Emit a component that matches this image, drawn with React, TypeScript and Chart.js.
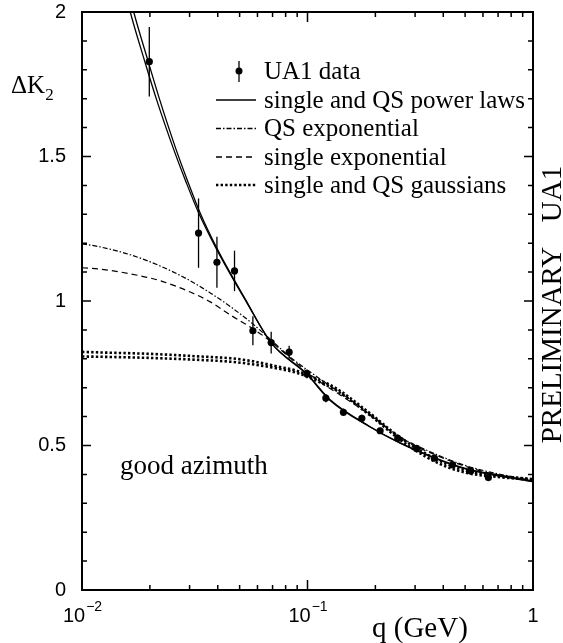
import React, { useEffect, useRef } from 'react';
import { Chart, registerables } from 'chart.js';
Chart.register(...registerables);

// UA1 data points
const Q_DATA = [0.01988, 0.03287, 0.03966, 0.04746, 0.05726, 0.06901, 0.08292, 0.09934, 0.1206, 0.1443, 0.1741, 0.2099, 0.2514, 0.3045, 0.3652, 0.4399, 0.5296, 0.6339];
const K_DATA = [1.828, 1.235, 1.134, 1.104, 0.897, 0.856, 0.823, 0.748, 0.664, 0.615, 0.594, 0.551, 0.525, 0.490, 0.456, 0.433, 0.412, 0.389];
const K_ERR = [0.12, 0.12, 0.088, 0.07, 0.05, 0.038, 0.022, 0.015, 0.014, 0.013, 0.012, 0.011, 0.01, 0.01, 0.01, 0.01, 0.01, 0.01];

// single power law
const Q_POW_SINGLE = [0.01588, 0.01637, 0.01900, 0.02143, 0.02555, 0.02870, 0.03277, 0.03966, 0.05293, 0.06901, 0.09934, 0.1260, 0.1895, 0.2574, 0.3606, 0.5100, 0.6998, 1.0];
const K_POW_SINGLE = [2.042, 2.0, 1.828, 1.696, 1.523, 1.419, 1.308, 1.177, 1.004, 0.856, 0.748, 0.658, 0.565, 0.509, 0.460, 0.419, 0.398, 0.377];
// QS power law
const Q_POW_QS = [0.01645, 0.01696, 0.01967, 0.02212, 0.02617, 0.02928, 0.03327, 0.03998, 0.05320, 0.06901, 0.09934, 0.1260, 0.1895, 0.2574, 0.3606, 0.5100, 0.6998, 1.0];
const K_POW_QS = [2.042, 2.0, 1.828, 1.696, 1.523, 1.419, 1.308, 1.177, 1.004, 0.855, 0.746, 0.656, 0.564, 0.508, 0.458, 0.417, 0.395, 0.374];

// exponentials
const Q_EXP = [0.01, 0.01206, 0.01637, 0.02223, 0.03020, 0.03704, 0.04542, 0.05570, 0.06901, 0.08378, 0.1138, 0.1395, 0.1832, 0.2574, 0.3606, 0.5100, 0.6998, 1.0];
const K_QS_EXP = [1.198, 1.187, 1.160, 1.121, 1.070, 1.028, 0.981, 0.928, 0.865, 0.806, 0.730, 0.682, 0.617, 0.530, 0.474, 0.429, 0.402, 0.381];
const K_SINGLE_EXP = [1.115, 1.110, 1.094, 1.070, 1.031, 0.997, 0.952, 0.910, 0.859, 0.803, 0.720, 0.675, 0.613, 0.526, 0.471, 0.426, 0.398, 0.377];

// gaussians
const Q_GAUSS = [0.01, 0.01206, 0.02008, 0.03344, 0.04542, 0.05570, 0.07190, 0.09000, 0.1104, 0.1353, 0.1764, 0.2036, 0.2325, 0.2850, 0.3871, 0.5100, 0.6998, 1.0];
const K_GAUSS_SINGLE = [0.824, 0.822, 0.817, 0.808, 0.802, 0.793, 0.775, 0.758, 0.730, 0.696, 0.630, 0.592, 0.554, 0.505, 0.446, 0.412, 0.395, 0.384];
const K_GAUSS_QS = [0.808, 0.807, 0.803, 0.796, 0.790, 0.782, 0.768, 0.751, 0.723, 0.689, 0.623, 0.585, 0.547, 0.495, 0.436, 0.405, 0.391, 0.381];

const Y_TICKS = [0, 0.5, 1, 1.5, 2];
const Y_TICK_LABELS = ['0', '0.5', '1', '1.5', '2'];
const X_TICKS = [0.01, 0.1, 1];
const X_TICK_BASES = ['10', '10', '1'];
const X_TICK_EXPS = ['\u22122', '\u22121', ''];
const LEGEND_LABELS = ['UA1 data', 'single and QS power laws', 'QS exponential', 'single exponential', 'single and QS gaussians'];

const SERIF = '"Liberation Serif", "Times New Roman", serif';
const SANS = '"Liberation Sans", Arial, sans-serif';

const DASH_QS_EXP = [5, 2, 1.5, 2];
const DASH_SINGLE_EXP = [6, 4];
const DASH_GAUSS = [2.4, 2.2];
const GAUSS_WIDTH = 2.6;

function pts(xs: number[], ys: number[]) {
  return xs.map((x, i) => ({ x, y: ys[i] }));
}

const lineDs = (label: string, xs: number[], ys: number[], dash: number[], width: number) => ({
  label,
  data: pts(xs, ys),
  borderColor: '#000',
  backgroundColor: '#000',
  borderWidth: width,
  borderDash: dash,
  borderCapStyle: 'butt',
  pointRadius: 0,
  fill: false,
  cubicInterpolationMode: 'monotone',
});

const decorPlugin = {
  id: 'decor',
  beforeDatasetsDraw(chart: any) {
    const ctx = chart.ctx;
    const xs = chart.scales.x;
    const ys = chart.scales.y;
    const ca = chart.chartArea;
    ctx.save();
    ctx.beginPath();
    ctx.rect(ca.left, ca.top, ca.right - ca.left, ca.bottom - ca.top);
    ctx.clip();
    ctx.strokeStyle = '#000';
    ctx.lineWidth = 1.3;
    Q_DATA.forEach((q, i) => {
      const px = xs.getPixelForValue(q);
      ctx.beginPath();
      ctx.moveTo(px, ys.getPixelForValue(K_DATA[i] + K_ERR[i]));
      ctx.lineTo(px, ys.getPixelForValue(K_DATA[i] - K_ERR[i]));
      ctx.stroke();
    });
    ctx.restore();
  },
  afterDraw(chart: any) {
    const ctx = chart.ctx;
    const xs = chart.scales.x;
    const ys = chart.scales.y;
    const ca = chart.chartArea;
    ctx.save();
    ctx.strokeStyle = '#000';
    ctx.fillStyle = '#000';
    // frame
    ctx.lineWidth = 2;
    ctx.strokeRect(ca.left, ca.top, ca.right - ca.left, ca.bottom - ca.top);
    // y ticks
    ctx.lineWidth = 1.5;
    for (let k = 0; k <= 20; k++) {
      const v = k / 10;
      const py = ys.getPixelForValue(v);
      const len = k % 5 === 0 ? 9 : 5;
      ctx.beginPath();
      ctx.moveTo(ca.left, py); ctx.lineTo(ca.left + len, py);
      ctx.moveTo(ca.right, py); ctx.lineTo(ca.right - len, py);
      ctx.stroke();
    }
    // x ticks
    const decades = [0.01, 0.1];
    const xt: { v: number; major: boolean }[] = [];
    decades.forEach((d) => {
      for (let m = 1; m <= 9; m++) xt.push({ v: m * d, major: m === 1 });
    });
    xt.push({ v: 1, major: true });
    xt.forEach((t) => {
      const px = xs.getPixelForValue(t.v);
      const len = t.major ? 10 : 5;
      ctx.beginPath();
      ctx.moveTo(px, ca.bottom); ctx.lineTo(px, ca.bottom - len);
      ctx.moveTo(px, ca.top); ctx.lineTo(px, ca.top + len);
      ctx.stroke();
    });
    // y labels
    ctx.font = '20px ' + SANS;
    ctx.textAlign = 'right';
    ctx.textBaseline = 'middle';
    Y_TICKS.forEach((v, i) => {
      ctx.fillText(Y_TICK_LABELS[i], ca.left - 16, ys.getPixelForValue(v));
    });
    // x labels
    ctx.textBaseline = 'alphabetic';
    ctx.textAlign = 'left';
    X_TICKS.forEach((v, i) => {
      const px = xs.getPixelForValue(v);
      ctx.font = '20px ' + SANS;
      const wb = ctx.measureText(X_TICK_BASES[i]).width;
      ctx.font = '14px ' + SANS;
      const we = X_TICK_EXPS[i] ? ctx.measureText(X_TICK_EXPS[i]).width : 0;
      const x0 = px - (wb + we) / 2;
      ctx.font = '20px ' + SANS;
      ctx.fillText(X_TICK_BASES[i], x0, ca.bottom + 32);
      if (X_TICK_EXPS[i]) {
        ctx.font = '14px ' + SANS;
        ctx.fillText(X_TICK_EXPS[i], x0 + wb + 1, ca.bottom + 21);
      }
    });
    // axis titles
    ctx.font = '29px ' + SERIF;
    ctx.fillText('q (GeV)', 372, 637);
    ctx.font = '25px ' + SERIF;
    ctx.fillText('\u0394K', 11, 93);
    const wdk = ctx.measureText('\u0394K').width;
    ctx.font = '17px ' + SERIF;
    ctx.fillText('2', 11 + wdk, 100);
    // annotation
    ctx.font = '27px ' + SERIF;
    ctx.textBaseline = 'middle';
    ctx.fillText('good azimuth', 120, 467);
    // preliminary
    ctx.save();
    ctx.translate(561, 0);
    ctx.rotate(-Math.PI / 2);
    ctx.font = '29px ' + SERIF;
    ctx.textBaseline = 'alphabetic';
    ctx.textAlign = 'center';
    ctx.fillText('PRELIMINARY', -345, 0);
    ctx.fillText('UA1', -194, 0);
    ctx.restore();
    // legend
    const rows = [71, 100, 128.5, 157, 185];
    const lx0 = 216, lx1 = 256, tx = 264;
    ctx.font = '25px ' + SERIF;
    ctx.textBaseline = 'middle';
    ctx.textAlign = 'left';
    LEGEND_LABELS.forEach((lab, i) => {
      const y = rows[i];
      ctx.fillText(lab, tx, y + 1);
      if (i === 0) {
        ctx.lineWidth = 1.3;
        ctx.setLineDash([]);
        ctx.beginPath();
        ctx.moveTo(239, y - 10); ctx.lineTo(239, y + 11);
        ctx.stroke();
        ctx.beginPath();
        ctx.arc(239, y, 3.5, 0, Math.PI * 2);
        ctx.fill();
      } else {
        const dash = i === 1 ? [] : i === 2 ? DASH_QS_EXP : i === 3 ? DASH_SINGLE_EXP : DASH_GAUSS;
        ctx.lineWidth = i === 4 ? GAUSS_WIDTH : 1.3;
        ctx.setLineDash(dash);
        ctx.beginPath();
        ctx.moveTo(lx0, y); ctx.lineTo(lx1, y);
        ctx.stroke();
      }
    });
    ctx.setLineDash([]);
    ctx.restore();
  },
};

export default function App() {
  const ref = useRef<HTMLCanvasElement | null>(null);
  useEffect(() => {
    if (!ref.current) return;
    const chart = new Chart(ref.current, {
      type: 'line',
      data: {
        datasets: [
          lineDs('single power law', Q_POW_SINGLE, K_POW_SINGLE, [], 1.3),
          lineDs('QS power law', Q_POW_QS, K_POW_QS, [], 1.3),
          lineDs('QS exponential', Q_EXP, K_QS_EXP, DASH_QS_EXP, 1.2),
          lineDs('single exponential', Q_EXP, K_SINGLE_EXP, DASH_SINGLE_EXP, 1.2),
          lineDs('single gaussian', Q_GAUSS, K_GAUSS_SINGLE, DASH_GAUSS, GAUSS_WIDTH),
          lineDs('QS gaussian', Q_GAUSS, K_GAUSS_QS, DASH_GAUSS, GAUSS_WIDTH),
          {
            label: 'UA1 data',
            data: pts(Q_DATA, K_DATA),
            showLine: false,
            pointRadius: 3.6,
            pointBackgroundColor: '#000',
            pointBorderColor: '#000',
            pointBorderWidth: 0,
          } as any,
        ] as any,
      },
      options: {
        animation: false,
        responsive: false,
        devicePixelRatio: 1,
        layout: { padding: { left: 82, right: 30, top: 12, bottom: 53 } },
        plugins: { legend: { display: false }, tooltip: { enabled: false } },
        scales: {
          x: { type: 'logarithmic', min: 0.01, max: 1, display: false },
          y: { type: 'linear', min: 0, max: 2, display: false },
        },
      } as any,
      plugins: [decorPlugin],
    });
    return () => chart.destroy();
  }, []);
  return (
    <div style={{ position: 'absolute', left: 0, top: 0, width: 563, height: 643, background: '#fff' }}>
      <canvas ref={ref} width={563} height={643} />
    </div>
  );
}
